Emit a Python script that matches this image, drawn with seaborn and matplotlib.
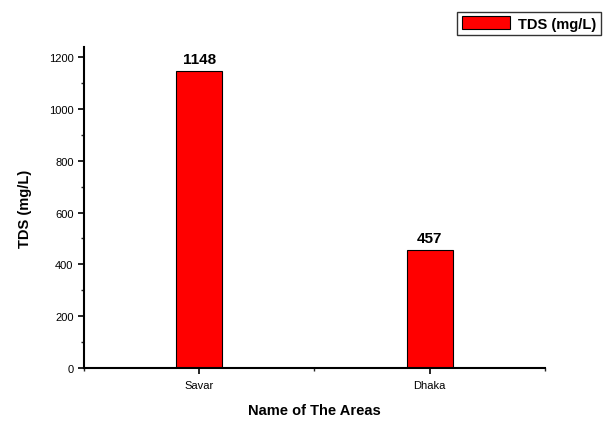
import numpy as np
import pandas as pd
import matplotlib
matplotlib.use("Agg")
import matplotlib.pyplot as plt
from matplotlib.ticker import MultipleLocator, FixedLocator
import seaborn as sns

# -------------------------------
# DATA
# -------------------------------
areas = ["Savar", "Dhaka"]
tds = [1148, 457]
series_name = "TDS (mg/L)"

df = pd.DataFrame({"Area": areas, "TDS": tds, "Series": series_name})

sns.set_style("white")
plt.rcParams["font.family"] = ["Liberation Sans", "DejaVu Sans"]
plt.rcParams["text.color"] = "black"
plt.rcParams["axes.labelcolor"] = "black"

fig = plt.figure(figsize=(6.13, 4.27), dpi=100)
ax = fig.add_axes([0.137, 0.136, 0.752, 0.752])

sns.barplot(data=df, x="Area", y="TDS", hue="Series", palette=["#ff0000"],
            saturation=1, width=0.2, edgecolor="black", linewidth=0.8, ax=ax)

ax.set_xlim(-0.5, 1.5)
ax.set_ylim(0, 1240)

# bar labels
for c in ax.containers:
    ax.bar_label(c, labels=[str(v) for v in tds], padding=3,
                 fontsize=11, fontweight="bold", color="black")

# spines
sns.despine(ax=ax)
for s in ["left", "bottom"]:
    ax.spines[s].set_linewidth(1.5)
    ax.spines[s].set_color("black")

# ticks
ax.yaxis.set_major_locator(MultipleLocator(200))
ax.yaxis.set_minor_locator(MultipleLocator(100))
ax.xaxis.set_minor_locator(FixedLocator([-0.5, 0.5, 1.5]))
ax.tick_params(axis="both", which="major", direction="out", length=4, width=1.2,
               labelsize=8, colors="black", left=True, bottom=True)
ax.tick_params(axis="both", which="minor", direction="out", length=2.5, width=1,
               left=True, bottom=True)
ax.tick_params(axis="x", which="major", pad=5)

ax.set_xlabel("Name of The Areas", fontsize=10.5, fontweight="bold", labelpad=9)
ax.set_ylabel("TDS (mg/L)", fontsize=10.5, fontweight="bold", labelpad=12)

# legend outside at top right
leg = ax.legend(loc="upper right", bbox_to_anchor=(601 / 613, 1 - 13 / 427),
                bbox_transform=fig.transFigure, borderaxespad=0,
                frameon=True, fancybox=False,
                handlelength=3.3, handleheight=1.0, borderpad=0.3,
                handletextpad=0.6, prop={"size": 10.5, "weight": "bold"})
leg.get_frame().set_edgecolor("black")
leg.get_frame().set_linewidth(1.0)

fig.savefig("out.png", dpi=100)
